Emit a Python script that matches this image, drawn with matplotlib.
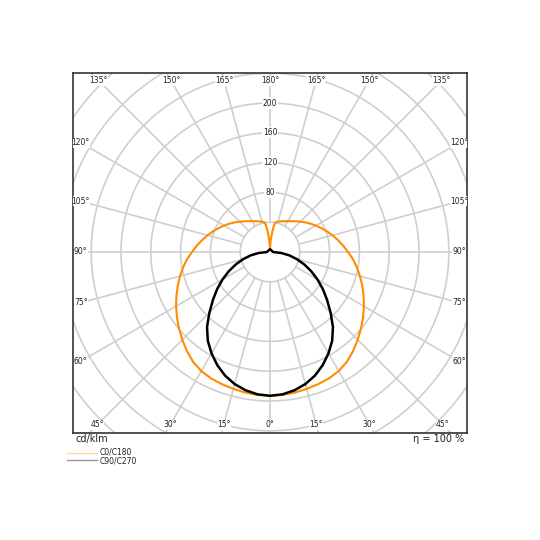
import numpy as np
import matplotlib
matplotlib.use("Agg")
import matplotlib.pyplot as plt

# ---- data (cd/klm vs. gamma angle from nadir, degrees) ----
gamma_c0 = [0, 5, 10, 15, 20, 25, 30, 35, 40, 45, 50, 55, 60, 65, 70, 75, 80, 85,
            90, 95, 100, 105, 110, 115, 120, 125, 130, 135, 140, 145, 150, 155, 160,
            165, 170, 172, 174, 176, 178, 180]
i_c0 = [193, 192.6, 191.6, 190.2, 188.8, 187.2, 184.5, 180, 173.5, 166.5, 159.5, 152.5,
        145.6, 138.6, 131.7, 125, 118.5, 111.8, 104.7, 98.5, 92.5, 86.8, 81.3, 76, 71,
        66.3, 61.8, 57.6, 53.8, 50.6, 47.8, 45.6, 43.8, 42.2, 40, 34, 26, 17, 9, 3]

gamma_c90 = [0, 5, 10, 15, 20, 25, 30, 35, 40, 45, 50, 55, 60, 65, 70, 75, 80, 85,
             90, 120, 150, 180]
i_c90 = [193, 191.8, 188.5, 183.5, 176.5, 167.5, 157, 145.5, 131.5, 115, 100, 86.5,
         73.5, 61, 49, 37.5, 26.5, 15.5, 4, 3, 3, 3]

ring_values = [40, 80, 120, 160, 200, 240, 280, 320, 360, 400]
ring_labels = [80, 120, 160, 200]
spoke_angles = list(range(0, 360, 15))
label_angles_left = [45, 60, 75, 90, 105, 120, 135, 150, 165, 180]
label_angles_right = [15, 30, 45, 60, 75, 90, 105, 120, 135, 150, 165]
label_angles_bottom = [0, 15, 30]

series_names = ["C0/C180", "C90/C270"]
unit_text = "cd/klm"
eta_text = "η = 100 %"

ORANGE = "#ff8c00"
GRID = "#cfcfcf"

SCALE = 0.745  # px per cd/klm
fig = plt.figure(figsize=(5.4, 5.4), dpi=100)
ax = fig.add_axes([72.7 / 540, 1 - 432.7 / 540, 394.6 / 540, 360 / 540])
XL = 197.3 / SCALE
YT = 179.3 / SCALE
YB = 180.7 / SCALE
ax.set_xlim(-XL, XL)
ax.set_ylim(-YB, YT)
ax.set_xticks([])
ax.set_yticks([])
for s in ax.spines.values():
    s.set_color("#333333")
    s.set_linewidth(1.2)

# rings
t = np.linspace(0, 2 * np.pi, 721)
for r in ring_values:
    ax.plot(r * np.cos(t), r * np.sin(t), color=GRID, lw=1.2, zorder=1)

# spokes (gamma measured from downward direction)
for a in spoke_angles:
    g = np.radians(a)
    ax.plot([40 * np.sin(g), 600 * np.sin(g)], [-40 * np.cos(g), -600 * np.cos(g)],
            color=GRID, lw=1.2, zorder=1)

# ring labels
for r in ring_labels:
    ax.text(0, r, str(r), ha="center", va="center", fontsize=5.5, color="#222222",
            zorder=3, bbox=dict(facecolor="white", edgecolor="none", pad=0.8))

# angle labels placed where spokes meet a rectangle inset ~8 px
inset = 8 / SCALE
def label_pos(gamma, side):
    g = np.radians(gamma)
    dx = side * np.sin(g)
    dy = -np.cos(g)
    xs = (XL - inset) / abs(dx) if abs(dx) > 1e-9 else np.inf
    ys = ((YT - inset) / dy if dy > 0 else (YB - inset) / -dy) if abs(dy) > 1e-9 else np.inf
    s = min(xs, ys)
    return dx * s, dy * s

for side, angs in ((-1, label_angles_left), (1, label_angles_right)):
    for a in angs:
        x, y = label_pos(a, side)
        ax.text(x, y, f"{a}°", ha="center", va="center", fontsize=5.5, color="#222222",
                zorder=3, clip_on=True,
                bbox=dict(facecolor="white", edgecolor="none", pad=0.3))
for a in label_angles_bottom:
    x, y = label_pos(a, -1)
    ax.text(x, y, f"{a}°", ha="center", va="center", fontsize=5.5, color="#222222",
            zorder=3, bbox=dict(facecolor="white", edgecolor="none", pad=0.3))

# curves (mirrored for both half-planes)
def curve(gam, val):
    g = np.radians(np.asarray(gam, float))
    v = np.asarray(val, float)
    x = np.concatenate([-(v * np.sin(g))[::-1], (v * np.sin(g))[1:]])
    y = np.concatenate([(-v * np.cos(g))[::-1], (-v * np.cos(g))[1:]])
    return x, y

x0, y0 = curve(gamma_c0, i_c0)
ax.plot(x0, y0, color=ORANGE, lw=1.5, zorder=4, solid_joinstyle="round")
x9, y9 = curve(gamma_c90, i_c90)
ax.plot(x9, y9, color="black", lw=1.8, zorder=5, solid_joinstyle="round")

# texts below
fig.text(76 / 540, 1 - 439 / 540, unit_text, ha="left", va="center", fontsize=7, color="#222222")
fig.text(464 / 540, 1 - 439 / 540, eta_text, ha="right", va="center", fontsize=7, color="#222222")

# legend
fig.lines.append(plt.Line2D([67 / 540, 97 / 540], [1 - 453 / 540] * 2,
                            transform=fig.transFigure, color="#ffd9a8", lw=1.0))
fig.lines.append(plt.Line2D([67 / 540, 97 / 540], [1 - 459.5 / 540] * 2,
                            transform=fig.transFigure, color="#999999", lw=1.0))
fig.text(99.5 / 540, 1 - 456.3 / 540, "\n".join(series_names), ha="left", va="center",
         fontsize=5.5, color="#222222", linespacing=0.92)

fig.savefig("out.png", dpi=100, facecolor="white")
